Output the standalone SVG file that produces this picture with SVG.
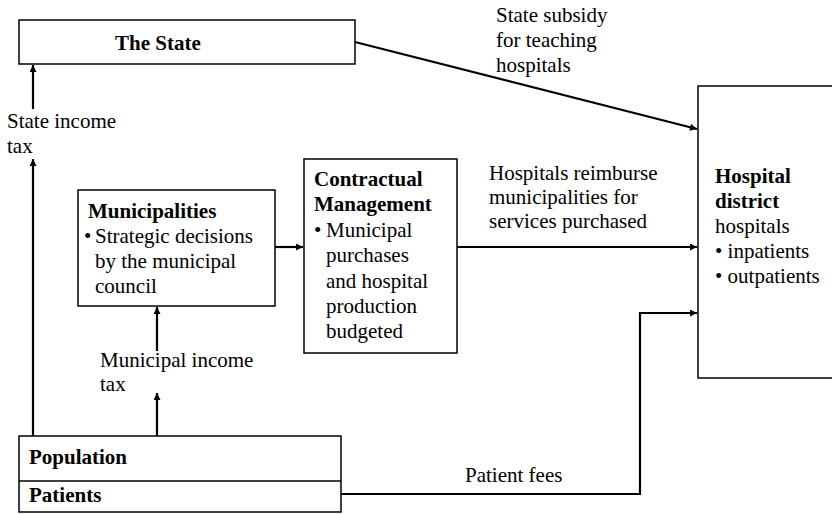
<svg xmlns="http://www.w3.org/2000/svg" width="832" height="514" viewBox="0 0 832 514">
<defs>
<style>
text{font-family:"Liberation Serif","Times New Roman",serif;font-size:21px;fill:#000}
.b{font-weight:bold}
.box{fill:#fff;stroke:#000;stroke-width:1.5}
.c{fill:none;stroke:#000;stroke-width:2.2}
</style>
<marker id="ah" viewBox="0 0 10 10" refX="10" refY="5" markerWidth="8" markerHeight="7" markerUnits="userSpaceOnUse" orient="auto">
<path d="M0,0 L10,5 L0,10 z" fill="#000"/>
</marker>
</defs>
<rect width="832" height="514" fill="#fff"/>
<g id="state">
<rect class="box" x="19" y="20" width="336" height="44"/>
<text class="b" x="115" y="50">The State</text>
</g>
<g id="municipalities">
<rect class="box" x="78" y="190" width="197" height="116"/>
<text class="b" x="88" y="218">Municipalities</text>
<text x="84" y="243">•</text>
<text x="95" y="243">Strategic decisions</text>
<text x="95" y="268">by the municipal</text>
<text x="95" y="293">council</text>
</g>
<g id="contractual">
<rect class="box" x="304" y="159" width="153" height="194"/>
<text class="b" x="314" y="186">Contractual</text>
<text class="b" x="314" y="211">Management</text>
<text x="314" y="237">•</text>
<text x="326" y="237">Municipal</text>
<text x="326" y="262">purchases</text>
<text x="326" y="288">and hospital</text>
<text x="326" y="313">production</text>
<text x="326" y="338">budgeted</text>
</g>
<g id="hospital">
<rect class="box" x="698" y="86" width="150" height="292"/>
<text class="b" x="715" y="183">Hospital</text>
<text class="b" x="715" y="208">district</text>
<text x="715" y="233">hospitals</text>
<text x="715" y="258">• inpatients</text>
<text x="715" y="283">• outpatients</text>
</g>
<g id="population">
<rect class="box" x="19" y="436" width="322" height="76"/>
<line x1="19" y1="481" x2="341" y2="481" stroke="#000" stroke-width="1.5"/>
<text class="b" x="29" y="464">Population</text>
<text class="b" x="29" y="502">Patients</text>
</g>
<g id="connectors">
<line class="c" x1="33" y1="109" x2="33" y2="65" marker-end="url(#ah)"/>
<line class="c" x1="33" y1="436" x2="33" y2="159" marker-end="url(#ah)"/>
<line class="c" x1="157" y1="351" x2="157" y2="307" marker-end="url(#ah)"/>
<line class="c" x1="157" y1="436" x2="157" y2="393" marker-end="url(#ah)"/>
<line class="c" x1="275" y1="247" x2="303" y2="247" marker-end="url(#ah)"/>
<line class="c" x1="457" y1="247" x2="697" y2="247" marker-end="url(#ah)"/>
<line class="c" x1="355" y1="42" x2="697" y2="129" marker-end="url(#ah)"/>
<polyline class="c" points="341,494 640,494 640,313 697,313" marker-end="url(#ah)"/>
</g>
<g id="labels">
<text x="7" y="128">State income</text>
<text x="7" y="153">tax</text>
<text x="100" y="367">Municipal income</text>
<text x="100" y="391">tax</text>
<text x="496" y="22">State subsidy</text>
<text x="496" y="47">for teaching</text>
<text x="496" y="72">hospitals</text>
<text x="489" y="180">Hospitals reimburse</text>
<text x="489" y="204">municipalities for</text>
<text x="489" y="228">services purchased</text>
<text x="465" y="482">Patient fees</text>
</g>
</svg>
